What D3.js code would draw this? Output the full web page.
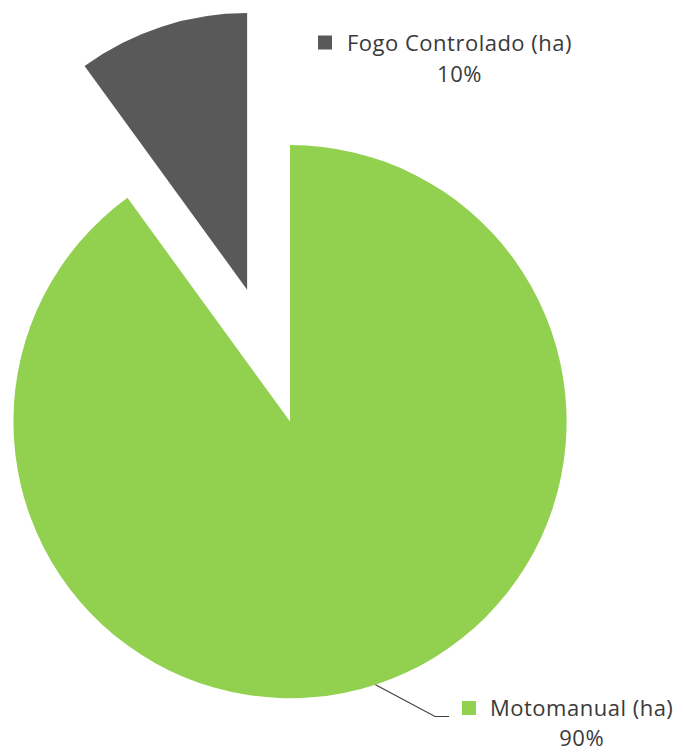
<!DOCTYPE html>
<html>
<head>
<meta charset="utf-8">
<script src="https://cdn.jsdelivr.net/npm/d3@7"></script>
<style>
  html, body { margin: 0; padding: 0; background: #ffffff; }
  svg { display: block; }
  text { font-family: "Open Sans", Lato, sans-serif; fill: #3a3a3a; letter-spacing: 0.5px; }
</style>
</head>
<body>
<div id="chart"></div>
<script>
// Treatment area by method (share of hectares)
const categories = ["Motomanual (ha)", "Fogo Controlado (ha)"];
const values = [90, 10];
const colors = ["#92D050", "#595959"];

const width = 683, height = 753;
const cx = 290, cy = 421.6, radius = 276.6;
const explode = 138.7;          // pull-out distance of the small slice
const fontSize = 22;

const svg = d3.select("#chart").append("svg")
  .attr("width", width).attr("height", height);

const total = d3.sum(values);
const pie = d3.pie().sort(null).value(d => d)(values);
const arc = d3.arc().innerRadius(0).outerRadius(radius);

const g = svg.append("g").attr("transform", `translate(${cx},${cy})`);

const offset = (d, i) => {
  if (i !== 1) return [0, 0];
  const mid = (d.startAngle + d.endAngle) / 2;
  return [explode * Math.sin(mid), -explode * Math.cos(mid)];
};

g.selectAll("path.slice").data(pie).enter().append("path")
  .attr("class", "slice")
  .attr("d", arc)
  .attr("fill", (d, i) => colors[i])
  .attr("transform", (d, i) => { const o = offset(d, i); return `translate(${o[0]},${o[1]})`; });

// Labels: legend key, category name, percentage centred below
const labelPos = [
  { key: [462, 701], textX: 490, base: 715.5, pctBase: 746 },
  { key: [318, 35.5], textX: 347, base: 50.5, pctBase: 81.7 }
];

pie.forEach((d, i) => {
  const p = labelPos[i];
  svg.append("rect")
    .attr("x", p.key[0]).attr("y", p.key[1])
    .attr("width", 14).attr("height", 14)
    .attr("fill", colors[i]);
  const t = svg.append("text")
    .attr("x", p.textX).attr("y", p.base)
    .attr("font-size", fontSize)
    .text(categories[i]);
  const w = t.node().getComputedTextLength();
  svg.append("text")
    .attr("x", p.textX + w / 2).attr("y", p.pctBase)
    .attr("text-anchor", "middle")
    .attr("font-size", fontSize)
    .text(Math.round(values[i] / total * 100) + "%");
});

// Leader line from the large slice to its label
const d0 = pie[0];
const mid0 = (d0.startAngle + d0.endAngle) / 2;
const sx = cx + radius * Math.sin(mid0), sy = cy - radius * Math.cos(mid0);
svg.append("path")
  .attr("d", d3.line()([[sx, sy], [435, 716.5], [449, 716.5]]))
  .attr("fill", "none")
  .attr("stroke", "#404040")
  .attr("stroke-width", 1.2);
</script>
</body>
</html>
